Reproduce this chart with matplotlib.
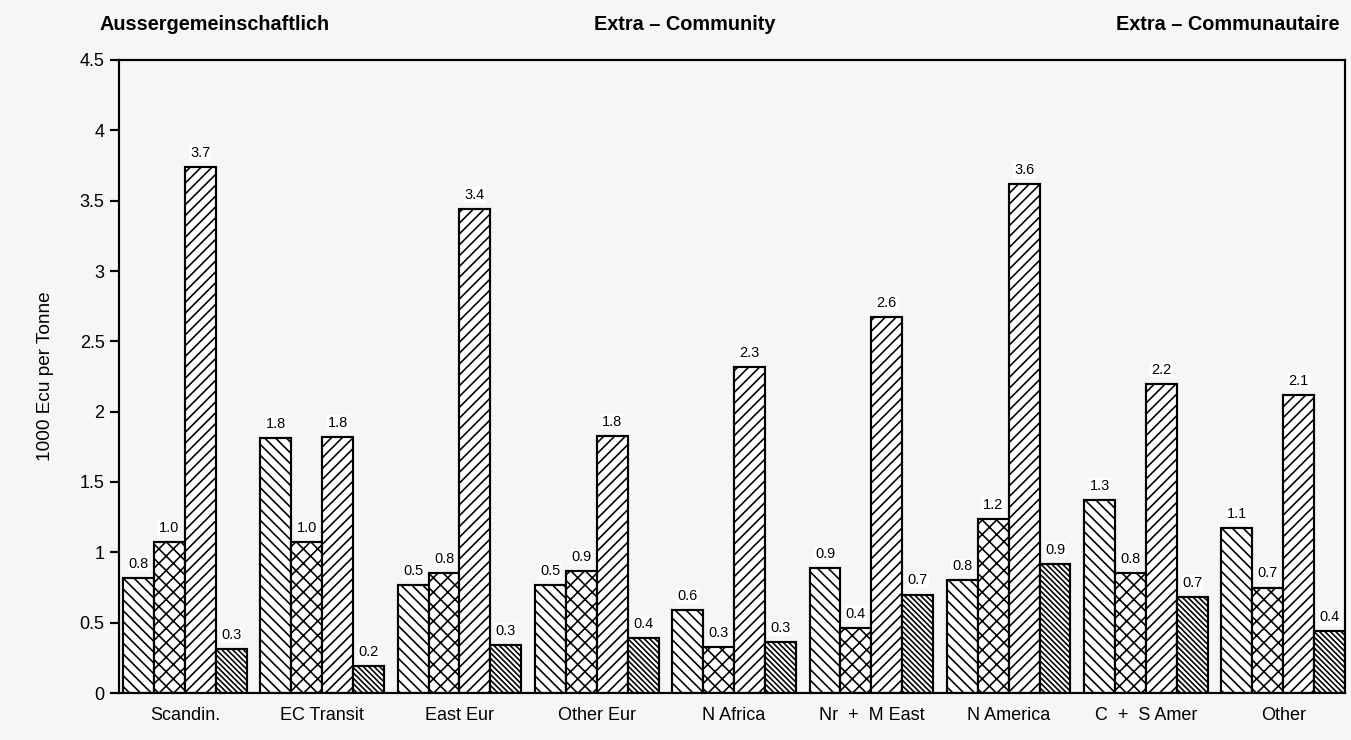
import matplotlib
matplotlib.use("Agg")
import matplotlib.pyplot as plt
import numpy as np

# ---- data ----
categories = ["Scandin.", "EC Transit", "East Eur", "Other Eur", "N Africa",
              "Nr  +  M East", "N America", "C  +  S Amer", "Other"]
series1 = [0.82, 1.81, 0.77, 0.77, 0.59, 0.89, 0.80, 1.37, 1.17]
series2 = [1.07, 1.07, 0.85, 0.87, 0.33, 0.46, 1.24, 0.85, 0.75]
series3 = [3.74, 1.82, 3.44, 1.83, 2.32, 2.67, 3.62, 2.20, 2.12]
series4 = [0.31, 0.19, 0.34, 0.39, 0.36, 0.70, 0.92, 0.68, 0.44]
labels1 = ["0.8", "1.8", "0.5", "0.5", "0.6", "0.9", "0.8", "1.3", "1.1"]
labels2 = ["1.0", "1.0", "0.8", "0.9", "0.3", "0.4", "1.2", "0.8", "0.7"]
labels3 = ["3.7", "1.8", "3.4", "1.8", "2.3", "2.6", "3.6", "2.2", "2.1"]
labels4 = ["0.3", "0.2", "0.3", "0.4", "0.3", "0.7", "0.9", "0.7", "0.4"]
yticks = [0, 0.5, 1, 1.5, 2, 2.5, 3, 3.5, 4, 4.5]
ytick_labels = ["0", "0.5", "1", "1.5", "2", "2.5", "3", "3.5", "4", "4.5"]
titles = ["Aussergemeinschaftlich", "Extra \u2013 Community", "Extra \u2013 Communautaire"]

DPI = 130
plt.rcParams['font.family'] = ['Liberation Sans', 'DejaVu Sans']
plt.rcParams['hatch.linewidth'] = 0.9
bg = '#f6f6f6'
fig = plt.figure(figsize=(1351 / DPI, 740 / DPI), dpi=DPI, facecolor=bg)
ax = fig.add_axes([119 / 1351, 1 - 693 / 740, (1345 - 119) / 1351, (693 - 60) / 740])
ax.set_facecolor(bg)

x = np.arange(len(categories))
w = 0.225
offs = [-1.5 * w, -0.5 * w, 0.5 * w, 1.5 * w]
hatches = ['\\' * 4, 'xxx', '/' * 4, '\\' * 8]
allseries = [series1, series2, series3, series4]
alllabels = [labels1, labels2, labels3, labels4]
for s, lab, off, h in zip(allseries, alllabels, offs, hatches):
    bars = ax.bar(x + off, s, width=w, facecolor='white', edgecolor='black',
                  linewidth=1.2, hatch=h, zorder=2)
    for b, t in zip(bars, lab):
        ax.text(b.get_x() + b.get_width() / 2, b.get_height() + 0.05, t,
                ha='center', va='bottom', fontsize=8,
                bbox=dict(facecolor='white', edgecolor='none', pad=0.5), zorder=3)

ax.set_xlim(-0.48, 8.45)
ax.set_ylim(0, 4.5)
ax.set_yticks(yticks)
ax.set_yticklabels(ytick_labels, fontsize=10)
ax.set_xticks(x)
ax.set_xticklabels(categories, fontsize=10)
ax.tick_params(axis='x', length=0, pad=8)
ax.tick_params(axis='y', length=5, width=1.2, direction='out', pad=3)
for sp in ax.spines.values():
    sp.set_linewidth(1.2)
ax.set_ylabel("1000 Ecu per Tonne", fontsize=10.5, labelpad=14)

fig.text(100 / 1351, 1 - 25 / 740, titles[0], ha='left', va='center',
         fontsize=11, fontweight='bold')
fig.text(685 / 1351, 1 - 25 / 740, titles[1], ha='center', va='center',
         fontsize=11, fontweight='bold')
fig.text(1340 / 1351, 1 - 25 / 740, titles[2], ha='right', va='center',
         fontsize=11, fontweight='bold')

fig.savefig("out.png", dpi=DPI, facecolor=bg)
